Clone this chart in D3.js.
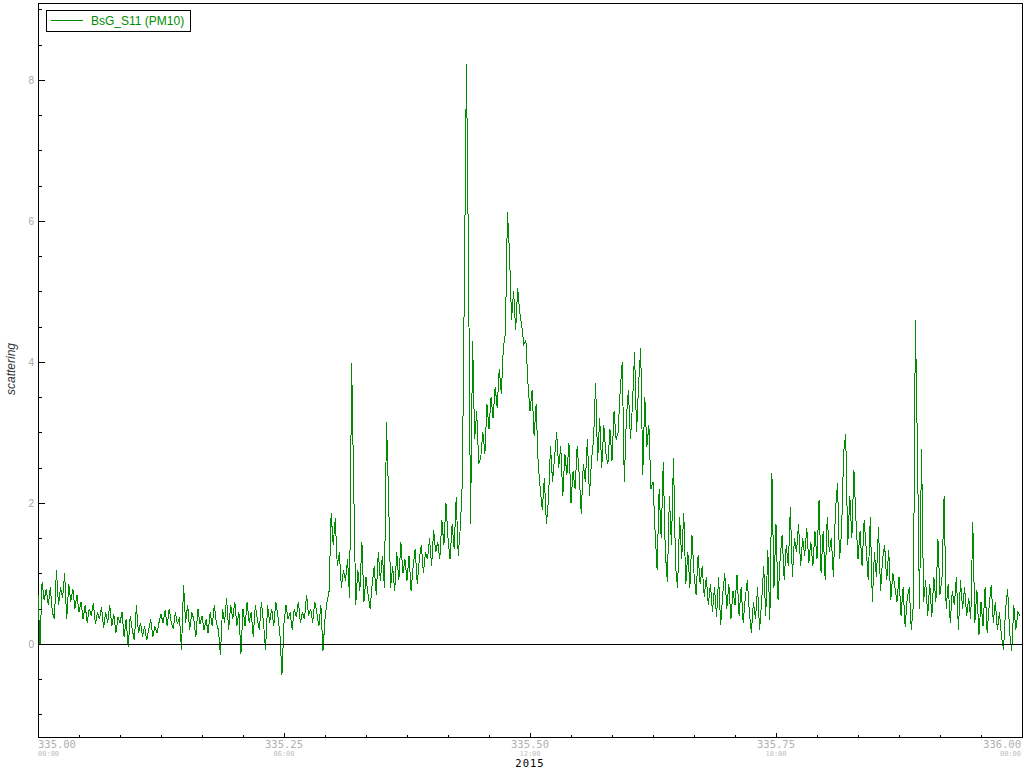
<!DOCTYPE html>
<html>
<head>
<meta charset="utf-8">
<script src="https://cdn.jsdelivr.net/npm/d3@7"></script>
<style>
  html, body { margin: 0; padding: 0; background: #fff; }
  svg { display: block; }
</style>
</head>
<body>
<svg id="chart" width="1024" height="768"></svg>
<script>
// ---- data (day of year 2015, 3-minute samples starting at 335.00) ----
const seriesName = "BsG_S11 (PM10)";
const yearLabel = "2015";
const yLabel = "scattering";
const startDay = 335.0;
const sampleMinutes = 3;
const values = [
  0.7, -0.02, 0.88, 0.62, 0.78, 0.55, 0.8, 0.45, 0.35, 1.05,
  0.55, 0.8, 0.65, 1.0, 0.35, 0.85, 0.6, 0.78, 0.5, 0.7,
  0.45, 0.6, 0.35, 0.55, 0.3, 0.5, 0.4, 0.58, 0.28, 0.45,
  0.35, 0.52, 0.22, 0.45, 0.3, 0.55, 0.25, 0.42, 0.15, 0.38,
  0.3, 0.45, 0.1, 0.35, -0.05, 0.4, 0.2, 0.05, 0.55, 0.15,
  0.3, 0.1, 0.25, 0.05, 0.2, 0.35, 0.1, 0.25, 0.15, 0.3,
  0.42, 0.3, 0.48, 0.25, 0.5, 0.3, 0.22, 0.45, 0.28, 0.38,
  -0.08, 0.84, 0.3, 0.55, 0.2, 0.45, 0.35, 0.1, 0.5, 0.28,
  0.4, 0.2, 0.35, 0.15, 0.45, 0.25, 0.55, 0.3, 0.2, -0.16,
  0.5, 0.3, 0.65, 0.2, 0.55, 0.35, 0.6, 0.25, 0.45, -0.14,
  0.5, 0.25, 0.6, 0.3, 0.45, 0.1, 0.55, 0.35, 0.2, 0.6,
  0.3, -0.08, 0.55, 0.3, 0.5, 0.25, 0.6, 0.4, 0.15, -0.44,
  0.3, 0.55, 0.35, 0.45, 0.2, 0.5, 0.38, 0.6, 0.3, 0.45,
  0.35, 0.7, 0.4, 0.5, 0.3, 0.6, 0.45, 0.25, 0.55, -0.1,
  0.35, 0.6, 0.75, 1.86, 1.4, 1.78, 1.1, 1.3, 0.8, 1.05,
  0.9, 1.2, 0.65, 3.99, 2.24, 0.55, 1.05, 0.75, 1.45, 0.6,
  0.95, 0.7, 0.5, 0.85, 1.1, 0.7, 1.3, 0.9, 1.25, 0.8,
  3.15, 2.1, 0.8, 1.1, 0.75, 1.3, 0.9, 1.45, 1.0, 1.2,
  0.9, 1.25, 0.75, 1.1, 1.35, 0.85, 1.2, 1.4, 1.0, 1.3,
  1.2, 1.5, 1.1, 1.62, 1.3, 1.45, 1.2, 1.75, 1.4, 2.0,
  1.5, 1.2, 1.7, 1.35, 2.08, 1.25, 1.65, 2.3, 5.16, 8.22,
  5.42, 1.7, 4.3, 2.9, 3.3, 2.55, 2.65, 3.0, 2.7, 3.4,
  3.05, 3.5, 3.2, 3.65, 3.35, 3.9, 3.55, 4.2, 4.4, 6.13,
  5.55, 4.6, 5.0, 4.45, 5.05, 4.7, 4.5, 4.25, 4.3, 3.7,
  3.3, 3.6, 2.95, 3.4, 2.55, 2.2, 1.9, 2.35, 1.7, 2.05,
  2.8, 2.3, 2.65, 3.0, 2.5, 2.8, 2.1, 2.7, 2.4, 2.85,
  2.0, 2.45, 2.2, 2.8, 2.4, 1.85, 2.55, 2.3, 2.9, 2.1,
  2.6, 2.9, 3.7, 2.6, 3.2, 2.5, 3.1, 2.7, 2.55, 3.05,
  2.6, 3.3, 2.9, 3.0, 3.6, 4.0, 2.3, 3.2, 3.6, 2.9,
  3.4, 4.14, 3.0, 3.7, 4.2, 2.4, 3.5, 2.8, 3.1, 2.2,
  2.3, 1.6, 1.05, 2.2, 1.5, 2.58, 1.3, 0.88, 2.1, 1.4,
  2.64, 1.1, 0.8, 1.8, 1.2, 1.86, 0.85, 1.3, 0.8, 1.55,
  1.0, 0.7, 1.26, 0.85, 1.1, 0.67, 0.95, 0.55, 0.85, 0.45,
  0.8, 0.38, 0.95, 0.27, 0.7, 1.0, 0.5, 0.85, 0.35, 0.75,
  0.55, 0.98, 0.4, 0.8, 0.3, 0.65, 0.9, 0.45, 0.16, 0.6,
  0.35, 0.8, 0.2, 0.6, 1.1, 0.4, 1.33, 0.34, 2.43, 0.8,
  1.7, 0.62, 1.2, 1.55, 0.9, 1.4, 1.1, 1.94, 0.95, 1.5,
  1.3, 1.7, 1.1, 1.5, 1.25, 1.65, 1.15, 1.45, 1.1, 1.6,
  1.2, 2.04, 1.0, 1.6, 0.9, 1.8, 1.3, 1.5, 0.95, 1.9,
  2.28, 1.2, 1.6, 2.72, 2.98, 1.4, 2.1, 1.5, 2.47, 1.76,
  1.2, 1.6, 1.1, 1.76, 1.35, 0.9, 1.8, 0.6, 1.3, 0.95,
  1.66, 0.75, 1.2, 1.4, 0.9, 1.33, 0.62, 1.0, 0.8, 0.6,
  0.95, 0.4, 0.8, 0.24, 0.65, 0.8, 0.2, 0.55, 4.6, 2.75,
  0.5, 2.77, 0.6, 0.9, 0.4, 0.85, 0.38, 0.95, 0.6, 1.49,
  0.7, 0.95, 2.1, 0.5, 0.85, 0.3, 0.75, 0.55, 0.95, 0.2,
  0.9, 0.5, 0.8, 0.4, 0.65, 0.35, 1.73, 0.3, 0.77, 0.13,
  0.6, 0.25, 0.8, 0.16, 0.55, 0.84, 0.3, 0.6, 0.2, 0.45,
  0.1, -0.08, 0.5, 0.78, 0.15, -0.1, 0.55, 0.2, 0.45, 0.4
];
// axis ticks
const xMajorTicks = [335.00, 335.25, 335.50, 335.75, 336.00];
const xMajorLabels = ["335.00", "335.25", "335.50", "335.75", "336.00"];
const xTimeLabels = ["00:00", "06:00", "12:00", "18:00", "00:00"];
const yLabelTicks = [0, 2, 4, 6, 8];

// ---- layout ----
const mLeft = 38, mRight = 1022, mTop = 3, mBottom = 737;
const lineColor = "#008c00";

const svg = d3.select("#chart");

const x = d3.scaleLinear().domain([335, 336]).range([mLeft, mRight]);
const y = d3.scaleLinear().domain([-1.32, 9.09]).range([mBottom, mTop]);

const data = values.map((v, i) => ({ t: startDay + i * sampleMinutes / 1440, v }));

// frame
svg.append("rect")
  .attr("x", mLeft + 0.5).attr("y", mTop + 0.5)
  .attr("width", mRight - mLeft).attr("height", mBottom - mTop)
  .attr("fill", "none").attr("stroke", "#000").attr("stroke-width", 1)
  .attr("shape-rendering", "crispEdges");

// clip
svg.append("clipPath").attr("id", "clip").append("rect")
  .attr("x", mLeft).attr("y", mTop).attr("width", mRight - mLeft).attr("height", mBottom - mTop);

// series line
const line = d3.line().x(d => x(d.t)).y(d => y(d.v)).defined(d => d.v != null);
svg.append("path")
  .datum(data)
  .attr("clip-path", "url(#clip)")
  .attr("fill", "none")
  .attr("stroke", lineColor)
  .attr("stroke-width", 1)
  .attr("shape-rendering", "crispEdges")
  .attr("d", line);

// zero line
svg.append("line")
  .attr("x1", mLeft).attr("x2", mRight)
  .attr("y1", Math.round(y(0)) + 0.5).attr("y2", Math.round(y(0)) + 0.5)
  .attr("stroke", "#000").attr("stroke-width", 1)
  .attr("shape-rendering", "crispEdges");

// y axis ticks (inward)
const yMinorVals = d3.range(-1, 9.01, 0.5);
const yAxisMinor = d3.axisRight(y).tickValues(yMinorVals).tickSize(3).tickFormat("");
const yAxisMajor = d3.axisRight(y).tickValues(yLabelTicks).tickSize(6).tickFormat("");
[yAxisMinor, yAxisMajor].forEach(ax => {
  const g = svg.append("g").attr("transform", `translate(${mLeft + 0.5},0)`).call(ax);
  g.select(".domain").remove();
  g.selectAll("line").attr("stroke", "#000").attr("shape-rendering", "crispEdges");
});
// y labels
const yAxisLabels = d3.axisLeft(y).tickValues(yLabelTicks).tickSize(0).tickPadding(4).tickFormat(d3.format("d"));
const gyl = svg.append("g").attr("transform", `translate(${mLeft},0)`).call(yAxisLabels);
gyl.select(".domain").remove();
gyl.selectAll("text")
  .attr("fill", "#a8a8a8")
  .style("font-family", "'Liberation Sans', Arial, sans-serif")
  .style("font-size", "10px");

// x axis ticks (inward, upward)
const xMinorVals = d3.range(0, 25).map(h => 335 + h / 24);
const xAxisMinor = d3.axisTop(x).tickValues(xMinorVals).tickSize(3).tickFormat("");
const xAxisMajor = d3.axisTop(x).tickValues(xMajorTicks).tickSize(5).tickFormat("");
[xAxisMinor, xAxisMajor].forEach(ax => {
  const g = svg.append("g").attr("transform", `translate(0,${mBottom + 0.5})`).call(ax);
  g.select(".domain").remove();
  g.selectAll("line").attr("stroke", "#000").attr("shape-rendering", "crispEdges");
});

// x labels: day value with the clock time beneath, one text element per tick
const xl = svg.append("g").attr("class", "xlabels");
xMajorTicks.forEach((v, i) => {
  const px = x(v);
  const last = xMajorTicks.length - 1;
  let anchor = "middle";
  if (i === 0) anchor = "start";
  if (i === last) anchor = "end";
  const tx = i === last ? px - 1 : px;
  const t = xl.append("text")
    .attr("x", tx).attr("y", 748)
    .attr("text-anchor", anchor)
    .style("font-family", "'DejaVu Sans Mono', 'Liberation Mono', monospace");
  t.append("tspan")
    .attr("x", tx)
    .attr("fill", "#b0b0b0")
    .style("font-size", "10.5px")
    .text(xMajorLabels[i]);
  t.append("tspan")
    .attr("x", tx).attr("dy", 7.5)
    .attr("fill", "#c0c0c0")
    .style("font-size", "7px")
    .text(xTimeLabels[i]);
});

// year label
svg.append("text")
  .attr("x", x(335.5)).attr("y", 766.5)
  .attr("text-anchor", "middle")
  .attr("fill", "#000")
  .style("font-family", "'DejaVu Sans Mono', 'Liberation Mono', monospace")
  .style("font-size", "10.5px")
  .style("letter-spacing", "1px")
  .text(yearLabel);

// y axis title
svg.append("text")
  .attr("transform", `translate(15,${(mTop + mBottom) / 2 - 1}) rotate(-90)`)
  .attr("text-anchor", "middle")
  .attr("fill", "#333")
  .style("font-family", "'Liberation Sans', Arial, sans-serif")
  .style("font-style", "italic")
  .style("font-size", "12px")
  .text(yLabel);

// legend
const lg = svg.append("g");
lg.append("rect")
  .attr("x", 46.5).attr("y", 10.5).attr("width", 144).attr("height", 21)
  .attr("fill", "#fff").attr("stroke", "#000").attr("stroke-width", 1)
  .attr("shape-rendering", "crispEdges");
lg.append("line")
  .attr("x1", 51).attr("x2", 83).attr("y1", 20.5).attr("y2", 20.5)
  .attr("stroke", lineColor).attr("stroke-width", 1);
lg.append("text")
  .attr("x", 91).attr("y", 25)
  .attr("fill", lineColor)
  .style("font-family", "'Liberation Sans', Arial, sans-serif")
  .style("font-size", "12px")
  .text(seriesName);
</script>
</body>
</html>
